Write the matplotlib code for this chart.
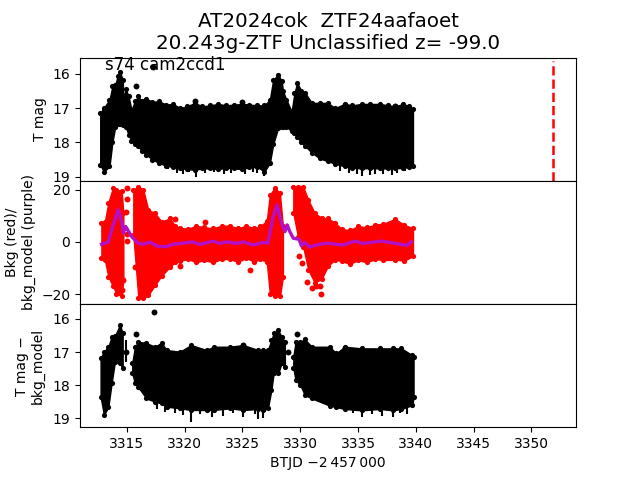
import matplotlib
matplotlib.use('Agg')
import matplotlib.pyplot as plt

# horne panel - T mag, obalka cez hustu skupinu bodov
top_t = [3312.7, 3313.0, 3313.5, 3313.75, 3314.0, 3314.2, 3314.4, 3314.65, 3314.7, 3314.9, 3315.15, 3315.4, 3315.7, 3316.0, 3316.3, 3316.7, 3317.2, 3317.8, 3318.4, 3319.0, 3319.6, 3320.2, 3320.9, 3321.5, 3322.2, 3322.9, 3323.6, 3324.3, 3325.0, 3325.6, 3326.3, 3326.9, 3327.37, 3327.66, 3328.1, 3328.4, 3328.5, 3328.8, 3329.25, 3329.5, 3329.73, 3330.1, 3330.4, 3331.0, 3331.7, 3332.4, 3333.0, 3333.85, 3334.5, 3335.3, 3336.0, 3336.9, 3337.6, 3338.2, 3338.9, 3339.4, 3339.75]
top_upper = [17.15, 17.0, 16.76, 16.37, 16.32, 16.08, 15.95, 16.17, 16.76, 16.44, 16.66, 17.05, 16.8, 16.66, 16.8, 16.73, 16.82, 16.8, 16.9, 16.88, 17.0, 16.95, 16.85, 16.95, 16.92, 16.88, 16.92, 16.9, 16.88, 16.9, 16.92, 16.92, 16.76, 16.17, 16.03, 16.22, 16.5, 16.76, 17.1, 16.56, 16.27, 16.5, 16.55, 16.85, 16.85, 16.85, 17.0, 16.88, 16.92, 16.88, 16.88, 16.88, 16.92, 16.95, 16.88, 16.95, 17.03]
top_lower = [18.65, 18.85, 18.7, 18.0, 17.54, 17.46, 17.46, 17.47, 17.49, 17.55, 17.78, 17.95, 18.05, 18.12, 18.25, 18.36, 18.5, 18.6, 18.68, 18.72, 18.75, 18.78, 18.8, 18.76, 18.76, 18.78, 18.74, 18.76, 18.78, 18.72, 18.72, 18.85, 18.6, 18.05, 17.57, 17.55, 17.55, 17.54, 17.68, 17.73, 17.85, 18.0, 18.1, 18.3, 18.47, 18.55, 18.62, 18.7, 18.74, 18.76, 18.75, 18.76, 18.76, 18.76, 18.74, 18.72, 18.7]
top_spike_t = [3318.6, 3319.3, 3319.9, 3320.4, 3321.0, 3321.8, 3322.5, 3323.4, 3324.0, 3325.2, 3325.9, 3326.3, 3326.9, 3333.4, 3334.2, 3334.9, 3335.3, 3336.0, 3336.5, 3337.2, 3337.9, 3338.4, 3339.1]
top_spike_low = [18.78, 18.88, 18.92, 18.85, 19.0, 18.88, 18.85, 18.92, 18.88, 18.92, 18.85, 18.88, 18.98, 18.82, 18.9, 18.92, 18.98, 18.95, 18.92, 18.93, 18.96, 18.88, 18.82]
top_dot_t = [3315.8, 3317.26, 3320.9, 3325.0, 3333.85, 3338.2]
top_dot_mag = [16.37, 15.79, 16.8, 16.82, 16.9, 16.95]
peak_time = 3351.9

# stredny panel - Bkg, tri skupiny bodov
bkg_t1 = [3312.8, 3313.1, 3313.4, 3313.8, 3314.1, 3314.55, 3314.7]
bkg_up1 = [7.2, 7.8, 15.0, 20.8, 20.0, 19.5, 11.0]
bkg_lo1 = [-6.2, -6.9, -13.3, -17.0, -19.8, -20.8, -14.6]
bkg_t2 = [3315.56, 3316.0, 3316.42, 3316.85, 3317.43, 3318.0, 3318.73, 3319.2, 3319.6, 3320.3, 3321.0, 3321.7, 3322.45, 3323.2, 3323.9, 3324.6, 3325.35, 3326.0, 3326.5, 3327.1, 3327.37, 3327.8, 3328.24, 3328.5]
bkg_up2 = [20.0, 21.2, 20.0, 12.3, 11.0, 7.8, 9.0, 6.0, 5.4, 5.0, 6.2, 5.6, 5.2, 6.2, 6.2, 5.2, 6.2, 5.2, 5.9, 8.0, 18.0, 20.8, 18.6, 5.9]
bkg_lo2 = [2.7, -21.6, -21.6, -20.4, -16.6, -13.0, -9.6, -7.6, -7.2, -6.6, -7.8, -7.0, -7.8, -6.6, -6.6, -7.6, -6.2, -7.6, -6.6, -7.6, -19.8, -20.8, -20.8, -13.5]
bkg_t3 = [3329.4, 3329.8, 3330.25, 3330.7, 3331.25, 3331.85, 3332.4, 3333.0, 3333.6, 3334.3, 3335.0, 3335.75, 3336.5, 3337.2, 3338.2, 3339.0, 3339.75]
bkg_up3 = [21.2, 21.2, 21.2, 16.0, 11.0, 9.2, 9.0, 7.4, 4.8, 4.6, 6.0, 5.6, 6.6, 7.0, 8.8, 6.5, 5.2]
bkg_lo3 = [11.0, 2.0, -1.8, -10.8, -15.6, -14.2, -9.2, -6.8, -7.4, -8.4, -7.0, -7.8, -6.6, -7.0, -6.8, -7.2, -5.4]
bkg_dot_t = [3314.98, 3314.98, 3314.95, 3314.98, 3314.98, 3314.7, 3314.55, 3315.7, 3316.2, 3319.16, 3321.75, 3325.65, 3319.6, 3329.9, 3330.6, 3331.0, 3331.4, 3331.8, 3331.75, 3330.15]
bkg_dot_val = [20.5, 16.5, 11.5, 3.0, 0.5, -14.5, -18.5, -9.5, -15.0, 8.7, 7.6, -10.8, -9.2, -5.4, -15.3, -17.8, -17.0, -19.8, -16.8, -8.0]

model_t = [3312.82, 3313.4, 3313.69, 3314.26, 3314.55, 3314.7, 3314.9, 3315.42, 3316.0, 3316.43, 3317.0, 3317.72, 3318.44, 3319.02, 3320.75, 3321.32, 3322.48, 3323.05, 3323.63, 3324.5, 3325.07, 3325.94, 3326.8, 3327.2, 3327.66, 3328.0, 3328.38, 3328.67, 3328.87, 3329.1, 3329.4, 3329.9, 3330.1, 3330.4, 3330.8, 3331.4, 3332.27, 3333.7, 3334.7, 3335.44, 3337.0, 3338.3, 3339.2, 3339.6]
model_val = [-0.9, -0.1, 4.6, 12.3, 7.8, 3.3, 5.9, 2.0, -0.6, -0.9, -0.1, -1.8, -1.8, -0.9, 0.0, -1.0, 0.3, -0.6, 0.0, -0.6, 0.0, -1.2, -0.2, -0.5, 9.7, 14.2, 7.2, 3.9, 6.5, 3.9, 1.4, 1.0, -1.5, -0.2, -2.0, -1.2, -0.5, -1.2, 0.3, -0.6, 0.3, -0.6, -1.4, 0.0]

# spodny panel - T mag - bkg_model
sub_t1 = [3312.73, 3313.02, 3313.4, 3313.68, 3313.97, 3314.4, 3314.64]
sub_up1 = [17.19, 16.99, 16.84, 16.54, 16.52, 16.18, 16.43]
sub_lo1 = [18.35, 18.9, 18.66, 17.95, 17.29, 17.34, 17.49]
sub_t2 = [3315.47, 3315.7, 3316.0, 3316.7, 3317.43, 3318.0, 3318.44, 3319.6, 3320.55, 3321.9, 3322.5, 3323.9, 3325.07, 3326.37, 3326.8, 3327.2, 3327.5, 3327.7, 3328.1, 3328.38, 3328.67]
sub_up2 = [17.34, 16.84, 16.69, 16.73, 16.84, 16.72, 16.94, 16.99, 16.79, 16.94, 16.84, 16.84, 16.79, 16.94, 16.94, 16.94, 16.64, 16.43, 16.35, 16.54, 16.69]
sub_lo2 = [17.64, 17.95, 18.07, 18.4, 18.5, 18.55, 18.65, 18.7, 18.75, 18.75, 18.75, 18.7, 18.75, 18.72, 18.75, 18.7, 18.15, 17.64, 17.64, 17.34, 17.44]
sub_t3 = [3329.4, 3329.6, 3330.0, 3330.4, 3331.0, 3332.55, 3333.1, 3333.85, 3335.3, 3336.9, 3338.0, 3338.75, 3339.7, 3339.8]
sub_up3 = [17.14, 16.69, 16.69, 16.62, 16.84, 16.84, 17.04, 16.84, 16.89, 16.89, 16.89, 16.89, 17.1, 17.14]
sub_lo3 = [17.49, 17.85, 18.0, 18.3, 18.4, 18.62, 18.66, 18.72, 18.76, 18.72, 18.76, 18.72, 18.6, 18.35]
sub_spike_t = [3314.93, 3317.6, 3318.3, 3319.2, 3319.9, 3320.55, 3321.3, 3322.4, 3323.3, 3324.2, 3325.07, 3326.1, 3326.36, 3326.8, 3334.6, 3335.3, 3336.2, 3337.1, 3338.0, 3338.6, 3339.2]
sub_spike_up = [16.64, 17.5, 17.5, 17.5, 17.5, 17.5, 17.5, 17.5, 17.5, 17.5, 17.5, 17.5, 17.5, 17.5, 17.5, 17.5, 17.5, 17.5, 17.5, 17.5, 17.5]
sub_spike_low = [17.29, 18.72, 18.82, 18.85, 18.9, 19.11, 18.88, 18.95, 18.92, 18.85, 18.96, 18.88, 19.02, 19.0, 18.85, 18.95, 18.88, 18.92, 18.97, 18.85, 18.88]
sub_dot_t = [3314.97, 3315.8, 3317.38, 3325.07, 3328.9, 3329.73, 3333.85, 3338.1]
sub_dot_mag = [16.99, 16.45, 15.78, 16.79, 17.0, 16.45, 16.88, 16.95]


def envelope(ax, t, up, lo, color):
    # plocha medzi obalkami, s bodkami na okraji
    ax.fill_between(t, lo, up, color=color, lw=1)
    ax.scatter(t + t, up + lo, color=color, s=14, lw=0)


fig, (ax1, ax2, ax3) = plt.subplots(3, 1, sharex=True)
fig.subplots_adjust(hspace=0)

envelope(ax1, top_t, top_upper, top_lower, 'black')
ax1.vlines(top_spike_t, 18.4, top_spike_low, color='black', lw=1.5)
ax1.scatter(top_dot_t, top_dot_mag, color='black', s=18, lw=0)
ax1.axvline(peak_time, color='red', ls='--', lw=1.8, ymin=0, ymax=0.97)
ax1.text(3313.1, 15.88, 's74 cam2ccd1', fontsize=12)
ax1.set_ylim(19.12, 15.53)
ax1.set_yticks([16, 17, 18, 19])
ax1.set_ylabel('T mag')
ax1.set_title('AT2024cok  ZTF24aafaoet\n20.243g-ZTF Unclassified z= -99.0', fontsize=14.3)

envelope(ax2, bkg_t1, bkg_up1, bkg_lo1, 'red')
envelope(ax2, bkg_t2, bkg_up2, bkg_lo2, 'red')
envelope(ax2, bkg_t3, bkg_up3, bkg_lo3, 'red')
ax2.scatter(bkg_dot_t, bkg_dot_val, color='red', s=18, lw=0)
ax2.plot(model_t, model_val, color='#b40fc8', lw=2.4)
ax2.set_ylim(-23.8, 23.4)
ax2.set_yticks([-20, 0, 20])
ax2.set_ylabel('Bkg (red)/\nbkg_model (purple)')

envelope(ax3, sub_t1, sub_up1, sub_lo1, 'black')
envelope(ax3, sub_t2, sub_up2, sub_lo2, 'black')
envelope(ax3, sub_t3, sub_up3, sub_lo3, 'black')
ax3.vlines(sub_spike_t, sub_spike_up, sub_spike_low, color='black', lw=1.5)
ax3.scatter(sub_dot_t, sub_dot_mag, color='black', s=18, lw=0)
ax3.set_ylim(19.27, 15.55)
ax3.set_yticks([16, 17, 18, 19])
ax3.set_ylabel('T mag \u2212\nbkg_model', labelpad=5.5)
ax3.set_xlim(3310.95, 3353.85)
ax3.set_xticks(range(3315, 3351, 5))
ax3.set_xlabel('BTJD \u22122\u2009457\u2009000')

ax1.tick_params(axis='x', bottom=False)
ax2.tick_params(axis='x', bottom=False)

plt.savefig('out.png', dpi=100)
